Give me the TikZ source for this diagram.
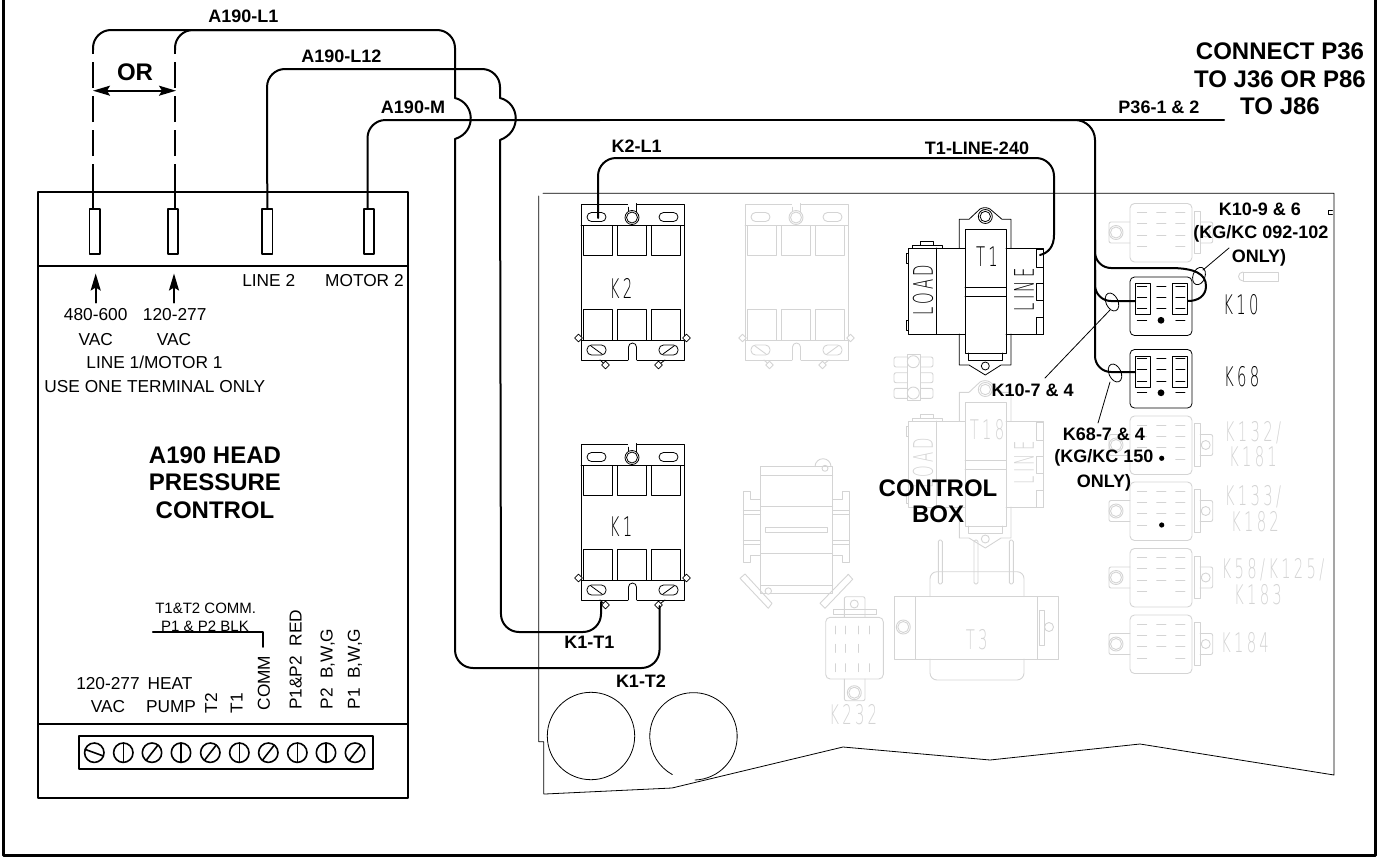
\documentclass[tikz,border=0pt]{standalone}
\usepackage{fontspec}
\usepackage{pgf,tikz}
\usetikzlibrary{arrows.meta}
\usetikzlibrary{shapes.geometric}
\setmainfont{Liberation Sans}
\newfontfamily\platefont[FakeStretch=0.55,LetterSpace=12]{DejaVu Sans ExtraLight}
\definecolor{ghostgray}{gray}{0.83}
\tikzset{
  frameline/.style={line width=3pt},
  boxline/.style={line width=1.6pt},
  wire/.style={line width=2pt},
  leader/.style={line width=0.8pt},
  ghost/.style={color=ghostgray,line width=0.9pt},
  plate/.style={color=black,line width=0.8pt},
  lbl/.style={font=\fontsize{17.3}{20}\selectfont,inner sep=0pt},
  smalllbl/.style={font=\fontsize{15}{18}\selectfont,inner sep=0pt},
  wirelbl/.style={font=\fontsize{18}{20}\selectfont\bfseries,inner sep=0pt},
  titlelbl/.style={font=\fontsize{24}{26}\selectfont\bfseries,inner sep=0pt},
  platelbl/.style={font=\fontsize{27}{30}\platefont,inner sep=0pt},
  terminal/.style={draw,boxline,minimum width=10.5pt,minimum height=45pt,inner sep=0pt,anchor=north},
  pics/contactor/.style={code={
    \draw (0,0) rectangle (103,156);
    \draw (0,21)-- (103,21);
    \draw (0,136)-- (103,136);
    \draw [fill=white] (47,-0.5) rectangle (55,8);
    \draw [fill=white,draw=white] (47.5,-1) rectangle (54.5,2);
    \draw [fill=white] (51,13.5) circle (7pt);
    \draw (51,13.5) circle (5.5pt);
    \draw [rounded corners=4.5pt] (6,8.5) rectangle (25,17.5);
    \draw [rounded corners=4.5pt] (78,8.5) rectangle (97,17.5);
    \foreach \xpos in {2.7,36.7,70.7} {
      \draw (\xpos,21) rectangle ++(29,30);
      \draw (\xpos,105) rectangle ++(29,31);
    }
    \draw [rounded corners=4.5pt] (6,141) rectangle (25,151);
    \draw [rounded corners=4.5pt] (78,141) rectangle (97,151);
    \draw (10,142)-- (21,150);
    \draw (82,150)-- (93,142);
    \draw [fill=white,draw=white] (47.5,150) rectangle (55.5,158);
    \draw (47.5,156)-- (47.5,143) arc (180:0:4pt) -- (55.5,156);
    \draw (19,156)-- (24.5,161);
    \draw (84,156)-- (77.5,161);
    \node [diamond,draw,fill=white,inner sep=0pt,minimum size=8pt] (dl) at (-2.5,134) {};
    \node [diamond,draw,fill=white,inner sep=0pt,minimum size=8pt] (dr) at (105.5,134) {};
    \node [diamond,draw,fill=white,inner sep=0pt,minimum size=8pt] (db) at (24.5,161) {};
    \node [diamond,draw,fill=white,inner sep=0pt,minimum size=8pt] (dc) at (77.5,161) {};
  }},
  pics/blockrelay/.style={code={
    \draw [rounded corners=4.5pt] (0,0) rectangle (62,58.5);
    \foreach \ypos in {9.3,20,31.7,43} {
      \draw (7.3,\ypos)-- ++(9.3,0);
      \draw (45.7,\ypos)-- ++(9.3,0);
    }
    \foreach \ypos in {9.3,20,31.7} \draw (26.7,\ypos)-- ++(9.3,0);
  }},
  pics/relayears/.style={code={
    \draw [rounded corners=2pt] (0,18.5)-- (-21,18.5)-- (-21,39.5)-- (0,39.5);
    \draw (-14,29) circle (7pt);
    \draw (-14,29) circle (5.5pt);
    \draw (64,7.5) rectangle (70,50);
    \draw [rounded corners=2pt] (70,18.5)-- (82.7,18.5)-- (82.7,39.5)-- (70,39.5);
    \draw (75.7,29) circle (4.5pt);
  }},
  pics/relayinsets/.style={code={
    \draw (5,6.7) rectangle (20,37.7);
    \draw (42.7,6.7) rectangle (57,37.7);
    \fill (31,43.3) circle (3.4pt);
  }},
  pics/transformer/.style={code={
    \draw (908,248) rectangle (965,334);
    \draw (936.7,248)-- (936.7,334);
    \draw (1006,248)-- (1043.3,248)-- (1043.3,334)-- (1006,334);
    \draw (912,248)-- (912,245)-- (942.7,245)-- (942.7,248);
    \draw (920.7,245)-- (920.7,241)-- (933,241)-- (933,245);
    \draw (908,253) rectangle (906,263);
    \draw (908,320) rectangle (906,330);
    \draw (1036.7,249) rectangle (1043.3,267);
    \draw (1036.7,283) rectangle (1043.3,300);
    \draw (1036.7,317) rectangle (1043.3,334);
    \draw (959.3,248)-- (959.3,219.3)-- (969,219.3)-- (980,209) arc (120:60:10pt) -- (1002,219.3)-- (1011,219.3)-- (1011,248);
    \draw (959.3,334)-- (959.3,365)-- (969,365)-- (985.3,375)-- (1001,365)-- (1011,365)-- (1011,334);
    \draw (965,229) rectangle (1006,353);
    \draw (965,287.7)-- (1006,287.7);
    \draw (965,296)-- (1006,296);
    \draw (968,353)-- (968,360.7)-- (1002.7,360.7)-- (1002.7,353);
    \draw (985.3,216.5) circle (7pt);
    \draw (985.3,216.5) circle (5.2pt);
    \draw (985.3,366) circle (4pt);
  }}
}
\begin{document}
\begin{tikzpicture}[line cap=round,line join=round,>={Stealth[length=17pt,width=10pt,inset=3pt]},x=1pt,y=-1pt]
\useasboundingbox (0,0) rectangle (1377,857);
% outer frame
\draw [frameline] (3.5,0)-- (3.5,855.5)-- (1375,855.5)-- (1375,0);
% ghost parts of the control box
\pic [ghost] at (745,204) {contactor};
\pic [ghost] at (0,173) {transformer};
\node [platelbl,color=ghostgray] (labelT18) at (987,430) {T18};
\node [platelbl,color=ghostgray,rotate=90] (labelLOADb) at (923,463) {LOAD};
\node [platelbl,color=ghostgray,rotate=90] (labelLINEb) at (1024,463) {LINE};
\begin{scope}[ghost]
\draw (907,354) rectangle (920.7,400.7);
\draw (913.3,361.7) circle (6pt);
\draw (913.3,393) circle (6pt);
\foreach \ypos in {357,372.7,388.3} {
  \draw [rounded corners=2pt] (907,\ypos) -- (894,\ypos) -- (894,\ypos+10) -- (907,\ypos+10);
  \draw [rounded corners=2pt] (920.7,\ypos) -- (933,\ypos) -- (933,\ypos+10) -- (920.7,\ypos+10);
}
% mid relay
\draw (760.7,466.7) rectangle (832.7,593);
\draw (815,466.7) arc (180:0:8pt);
\draw (825,468.3) circle (3pt);
\foreach \ypos in {475,506,553.3,585} \draw (760.7,\ypos)-- (832.7,\ypos);
\draw (765.7,527.3) rectangle (827.7,532.7);
\draw (760.7,499)-- (750.7,499)-- (750.7,491.7)-- (743.3,491.7)-- (743.3,562.3)-- (750.7,562.3)-- (750.7,555)-- (760.7,555);
\draw (832.7,499)-- (842.7,499)-- (842.7,491.7)-- (849.3,491.7)-- (849.3,562.3)-- (842.7,562.3)-- (842.7,555)-- (832.7,555);
\draw (743.3,510)-- (760.7,510);
\draw (743.3,514)-- (760.7,514);
\draw (743.3,540.7)-- (760.7,540.7);
\draw (743.3,544)-- (760.7,544);
\draw (832.7,510)-- (849.3,510);
\draw (832.7,514)-- (849.3,514);
\draw (832.7,540.7)-- (849.3,540.7);
\draw (832.7,544)-- (849.3,544);
\draw (740,578.3)-- (745,574)-- (772,603.3)-- (768.3,608.3)-- cycle;
\draw (848.3,574.3)-- (852.7,579.3)-- (825,608.3)-- (820,603.3)-- cycle;
\draw [fill=white] (768.3,591) circle (3.2pt);
% K232 socket
\draw [rounded corners=4.5pt] (825.7,617.3) rectangle (883.3,679);
\draw [rounded corners=2pt] (844.3,617.3)-- (844.3,596.7)-- (865,596.7)-- (865,617.3);
\draw (854.3,604) circle (4pt);
\draw (833.3,609.3) rectangle (876,614.3);
\draw [rounded corners=2pt] (844.3,679)-- (844.3,700.7)-- (865,700.7)-- (865,679);
\draw (854.3,692.7) circle (7pt);
\draw (854.3,692.7) circle (5.5pt);
\foreach \xpos in {835,845,858.3,869} {
  \draw (\xpos,626)-- ++(0,8);
  \draw (\xpos,663.7)-- ++(0,8);
}
\foreach \xpos in {835,845,858.3} \draw (\xpos,644.3)-- ++(0,8);
% T3
\draw (894,596.7) rectangle (1058,659);
\draw (915,596.7)-- (915,659);
\draw (1037.7,596.7)-- (1037.7,659);
\draw [rounded corners=7pt] (930,596.7)-- (930,571.7)-- (1024,571.7)-- (1024,596.7);
\draw [rounded corners=7pt] (930,659)-- (930,680)-- (1024,680)-- (1024,659);
\foreach \xpos in {938.3,974,1009.3} \draw [rounded corners=1.5pt] (\xpos,540) rectangle ++(4,44);
\draw (903.3,627) circle (7pt);
\draw (903.3,627) circle (5.5pt);
\draw (1049,627) circle (4.5pt);
\draw (1039,610) rectangle (1044.3,645);
% screw
\draw (1243,272) rectangle (1278,281);
\draw (1243,272) arc (90:270:4.5pt);
\end{scope}
\pic [ghost] at (1130,203.5) {blockrelay};
\pic [ghost] at (1130,203.5) {relayears};
\pic [ghost] at (1130,416) {blockrelay};
\pic [ghost] at (1130,416) {relayears};
\pic [ghost] at (1130,482) {blockrelay};
\pic [ghost] at (1130,482) {relayears};
\pic [ghost] at (1130,548.5) {blockrelay};
\pic [ghost] at (1130,548.5) {relayears};
\pic [ghost] at (1130,615) {blockrelay};
\pic [ghost] at (1130,615) {relayears};
\node [platelbl,color=ghostgray] (labelT3) at (976.7,640) {T3};
\node [platelbl,color=ghostgray] (labelK232) at (853.3,715) {K232};
\node [platelbl,color=ghostgray] (labelK132) at (1253,433) {K132/};
\node [platelbl,color=ghostgray] (labelK181) at (1253,457) {K181};
\node [platelbl,color=ghostgray] (labelK133) at (1253,497) {K133/};
\node [platelbl,color=ghostgray] (labelK182) at (1255,522) {K182};
\node [platelbl,color=ghostgray] (labelK58) at (1273,570) {K58/K125/};
\node [platelbl,color=ghostgray] (labelK183) at (1258,595) {K183};
\node [platelbl,color=ghostgray] (labelK184) at (1245,643) {K184};
\fill (1161.7,458.3) circle (2.6pt);
\fill (1161.7,525) circle (2.6pt);
% control box outline
\draw [plate] (543,193.3)-- (1334,193.3)-- (1334,775)-- (1140,744)-- (990,760)-- (843,747)-- (672,788)-- (545,794)-- (543.7,794)-- (543.7,741.7)-- (538.7,741.7)-- (538.7,196);
\draw [plate] (591,736) circle (43.7pt);
\draw [plate] (695,780) arc [start angle=-88,end angle=241,radius=43.7pt];
\draw [plate] (1332.5,210)-- (1328.5,210)-- (1328.5,214)-- (1332.5,214);
% parts in use
\pic [plate] at (581,204) {contactor};
\pic [plate] at (581,444) {contactor};
\node [platelbl] (labelK2) at (621,288) {K2};
\node [platelbl] (labelK1) at (621,527) {K1};
\pic [plate] at (0,0) {transformer};
\node [platelbl] (labelT1) at (987,257) {T1};
\node [platelbl,rotate=90] (labelLOAD) at (923,290) {LOAD};
\node [platelbl,rotate=90] (labelLINE) at (1024,290) {LINE};
\pic [plate] at (1130,277) {blockrelay};
\pic [plate] at (1130,277) {relayinsets};
\pic [plate] at (1130,349.5) {blockrelay};
\pic [plate] at (1130,349.5) {relayinsets};
\node [platelbl] (labelK10) at (1241,305) {K10};
\node [platelbl] (labelK68) at (1241.7,377) {K68};
% A190 control
\draw [boxline] (38,192) rectangle (408,798);
\draw [line width=2pt] (38,266)-- (408,266);
\draw [line width=2pt] (38,724)-- (408,724);
\node [terminal] (termA) at (94.8,208) {};
\node [terminal] (termB) at (173,208) {};
\node [terminal] (termC) at (267.3,208) {};
\node [terminal] (termD) at (369,208) {};
\draw [boxline] (79,736) rectangle (372.7,769);
\draw [boxline] (94.3,752.7) circle (9.7pt);
\draw [boxline] (85.2,749.4)-- (103.4,756);
\draw [boxline] (123.3,752.7) circle (9.7pt);
\draw [boxline] (123.3,743)-- (123.3,762.4);
\draw [boxline] (152,752.7) circle (9.7pt);
\draw [boxline] (146,760.5)-- (158,745);
\draw [boxline] (181,752.7) circle (9.7pt);
\draw [boxline] (181,743)-- (181,762.4);
\draw [boxline] (210.3,752.7) circle (9.7pt);
\draw [boxline] (204.3,760.5)-- (216.3,745);
\draw [boxline] (239.3,752.7) circle (9.7pt);
\draw [boxline] (239.3,743)-- (239.3,762.4);
\draw [boxline] (268.3,752.7) circle (9.7pt);
\draw [boxline] (262.3,760.5)-- (274.3,745);
\draw [boxline] (297.3,752.7) circle (9.7pt);
\draw [boxline] (297.3,743)-- (297.3,762.4);
\draw [boxline] (326,752.7) circle (9.7pt);
\draw [boxline] (326,743)-- (326,762.4);
\draw [boxline] (355,752.7) circle (9.7pt);
\draw [boxline] (349,760.5)-- (361,745);
\coordinate (wireA) at ([xshift=-1.8pt]termA.north);
\coordinate (wireB) at ([xshift=2pt]termB.north);
\coordinate (wireC) at (termC.north);
\coordinate (wireD) at ([xshift=-1.5pt]termD.north);
\coordinate (wireAup) at (93,190);
\coordinate (wireBup) at (175,190);
\coordinate (wireAtop) at (93,50);
\coordinate (wireBtop) at (175,50);
\coordinate (jumpAin) at (455,98);
\coordinate (jumpAout) at (455,139);
\coordinate (jumpCin) at (500,98);
\coordinate (jumpCout) at (500,140);
\coordinate (p36end) at (1224,120);
\coordinate (branchend) at (1095,330);
\coordinate (k2pin) at (598,218);
\coordinate (t1pin) at (1040,255);
\coordinate (k1t1pin) at (601,602);
\coordinate (k1t2pin) at (659.5,606);
\coordinate (k10pinL) at (1135,301);
\coordinate (k10pinR) at (1188,301);
\coordinate (k68pin) at (1135,372);
% wires
\draw [wire] (wireA)-- (wireAup);
\draw [wire] (wireB)-- (wireBup);
\draw [wire,dash pattern=on 26pt off 8pt,line cap=butt] (wireAup)-- (wireAtop);
\draw [wire,dash pattern=on 26pt off 8pt,line cap=butt] (wireBup)-- (wireBtop);
\draw [wire,rounded corners=18pt] (wireAtop)-- (93,30)-- (455,30)-- (jumpAin);
\draw [wire,rounded corners=18pt] (wireBtop)-- (175,30)-- (300,30);
\draw [wire,rounded corners=18pt] (wireC)-- (267,69)-- (500,69)-- (jumpCin);
\draw [wire] (jumpAin) .. controls (475,103) and (477,132) .. (jumpAout);
\draw [wire] (jumpCin) .. controls (520,103) and (522,132) .. (jumpCout);
\draw [wire,rounded corners=18pt] (jumpAout)-- (455,668)-- (659.5,668)-- (k1t2pin);
\draw [wire,rounded corners=18pt] (jumpCout)-- (501,632)-- (601,632)-- (k1t1pin);
\draw [wire,rounded corners=18pt] (wireD)-- (367.5,120)-- (600,120);
\draw [wire] (600,120)-- (p36end);
\draw [wire,rounded corners=20pt] (1050,120)-- (1095,120)-- (branchend);
\draw [wire,rounded corners=16pt] (1095,240)-- (1095,268)-- (1170,268);
\draw [wire] (1170,268) .. controls (1195,268) and (1206,274) .. (1206,286) .. controls (1206,296) and (1198,301) .. (k10pinR);
\draw [wire,rounded corners=16pt] (1095,270)-- (1095,301)-- (k10pinL);
\draw [wire,rounded corners=16pt] (branchend)-- (1095,372)-- (k68pin);
\draw [wire,rounded corners=18pt] (k2pin)-- (598,158)-- (1054,158)-- (1054,235);
\draw [wire] (1054,235) .. controls (1054,247) and (1048,253) .. (t1pin);
% call-outs
\node [draw,ellipse,leader,rotate=-20,minimum width=12pt,minimum height=18pt,inner sep=0pt] (ovalK10r) at (1199,276) {};
\node [draw,ellipse,leader,rotate=25,minimum width=12pt,minimum height=19pt,inner sep=0pt] (ovalK10l) at (1112,302) {};
\node [draw,ellipse,leader,rotate=25,minimum width=12pt,minimum height=19pt,inner sep=0pt] (ovalK68) at (1115,373) {};
\coordinate (tipK10r) at (1229,248);
\coordinate (tipK10l) at (1045,378);
\coordinate (tipK68) at (1098,423);
\draw [leader] (ovalK10r)+(4,-6)-- (tipK10r);
\draw [leader] (ovalK10l)+(-2,8)-- (tipK10l);
\draw [leader] (ovalK68)+(-5,9)-- (tipK68);
% OR arrow and pointers
\coordinate (orL) at (93,90.7);
\coordinate (orR) at (176,90.7);
\draw [<->,line width=1.6pt] (orL)-- (orR);
\coordinate (ptrAa) at (95.7,302.7);
\coordinate (ptrAb) at (95.7,273.5);
\coordinate (ptrBa) at (174,302.7);
\coordinate (ptrBb) at (174,273.5);
\draw [->,line width=2pt] (ptrAa)-- (ptrAb);
\draw [->,line width=2pt] (ptrBa)-- (ptrBb);
\coordinate (commL) at (152.7,631.7);
\coordinate (commC) at (262.7,631.7);
\coordinate (commB) at (262.7,647);
\draw [boxline] (commL)-- (commC)-- (commB);
% texts
\node [wirelbl] (lblL1) at (243.4,16) {A190-L1};
\node [wirelbl] (lblL12) at (341.4,56.7) {A190-L12};
\node [wirelbl] (lblM) at (413,107.7) {A190-M};
\node [wirelbl] (lblK2L1) at (636.7,146.7) {K2-L1};
\node [wirelbl] (lblT1) at (977,148) {T1-LINE-240};
\node [wirelbl] (lblP36) at (1159,107.7) {P36-1 \& 2};
\node [wirelbl] (lblK1T1) at (589.3,642.7) {K1-T1};
\node [wirelbl] (lblK1T2) at (641,681) {K1-T2};
\node [wirelbl] (lblK109a) at (1260,209) {K10-9 \& 6};
\node [wirelbl] (lblK109b) at (1261,234) {(KG/KC 092-102};
\node [wirelbl] (lblK109c) at (1259,258) {ONLY)};
\node [wirelbl] (lblK107) at (1032.7,390.7) {K10-7 \& 4};
\node [wirelbl] (lblK68a) at (1104,434) {K68-7 \& 4};
\node [wirelbl] (lblK68b) at (1104,458) {(KG/KC 150};
\node [wirelbl] (lblK68c) at (1104,482.7) {ONLY)};
\node [titlelbl] (lblOR) at (135,72.7) {OR};
\node [titlelbl] (lblCon) at (1280,51.7) {CONNECT P36};
\node [titlelbl] (lblTo) at (1280,79.3) {TO J36 OR P86};
\node [titlelbl] (lblToB) at (1280,106.7) {TO J86};
\node [titlelbl] (lblHead) at (215,455) {A190 HEAD};
\node [titlelbl] (lblPress) at (215,482) {PRESSURE};
\node [titlelbl] (lblCtrl) at (215,510) {CONTROL};
\node [titlelbl] (lblBoxA) at (938,488) {CONTROL};
\node [titlelbl] (lblBoxB) at (938,514) {BOX};
\node [lbl] (lblLine2) at (268.7,280.7) {LINE 2};
\node [lbl] (lblMotor2) at (364.4,280.7) {MOTOR 2};
\node [lbl] (lbl480) at (95.7,315) {480-600};
\node [lbl] (lbl120) at (174.7,315) {120-277};
\node [lbl] (lblVacA) at (95.7,340) {VAC};
\node [lbl] (lblVacB) at (174,340) {VAC};
\node [lbl] (lblLine1) at (154.5,362.3) {LINE 1/MOTOR 1};
\node [lbl] (lblUse) at (154.8,386.7) {USE ONE TERMINAL ONLY};
\node [smalllbl] (lblTcomm) at (205.7,608) {T1\&T2 COMM.};
\node [smalllbl] (lblPblk) at (205,626) {P1 \& P2 BLK};
\node [lbl] (lbl120b) at (108,684) {120-277};
\node [lbl] (lblHeat) at (170,684) {HEAT};
\node [lbl] (lblVacC) at (108,707) {VAC};
\node [lbl] (lblPump) at (171,707) {PUMP};
\node [lbl,rotate=90] (lblT2) at (211,703) {T2};
\node [lbl,rotate=90] (lblT1b) at (236.7,703) {T1};
\node [lbl,rotate=90] (lblComm) at (264,683) {COMM};
\node [lbl,rotate=90] (lblPred) at (295.7,659.7) {P1\&P2\ \ RED};
\node [lbl,rotate=90] (lblPtwo) at (327.7,669) {P2\ \ B,W,G};
\node [lbl,rotate=90] (lblPone) at (355,669) {P1\ \ B,W,G};
\end{tikzpicture}
\end{document}
